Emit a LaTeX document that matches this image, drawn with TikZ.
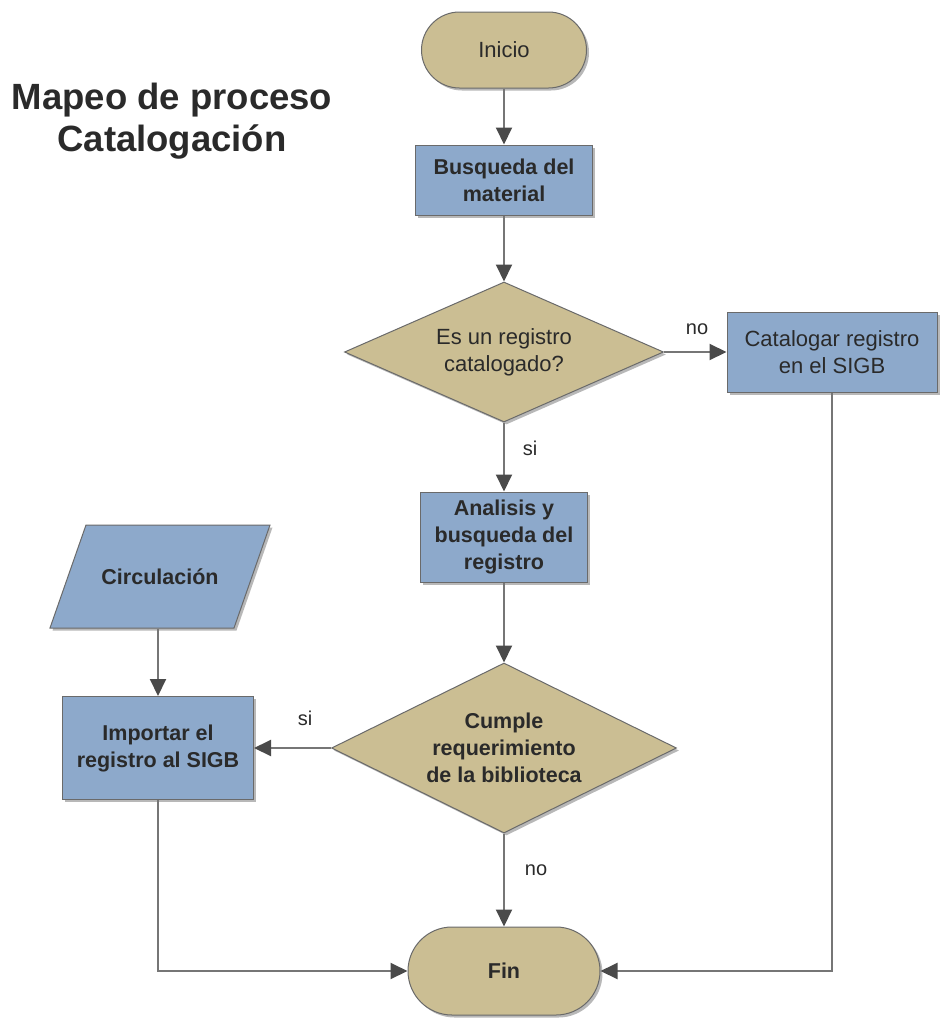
\documentclass[tikz,border=0pt]{standalone}
\usepackage{fontspec}
\setmainfont{Liberation Sans}
\usetikzlibrary{shapes.geometric,arrows.meta,shadows}

\definecolor{boxblue}{HTML}{8DA9CB}
\definecolor{tan}{HTML}{CBBE93}
\definecolor{bordergray}{HTML}{6A6A6A}
\definecolor{linegray}{HTML}{767676}
\definecolor{tipgray}{HTML}{4A4A4A}
\definecolor{textdark}{HTML}{2A2A2A}

\tikzset{
  outline/.style={draw=bordergray, line width=1pt,
    drop shadow={shadow xshift=2.5pt, shadow yshift=-2.5pt, fill=black, opacity=0.28}},
  shapebase/.style={outline, text=textdark, align=center, inner sep=0pt},
  regtext/.style={font=\fontsize{22}{27}\selectfont},
  boldtext/.style={font=\fontsize{21.5}{27}\selectfont\bfseries},
  terminal/.style={shapebase, fill=tan, rectangle},
  procbox/.style={shapebase, fill=boxblue, rectangle},
  decision/.style={shapebase, fill=tan, diamond},
  iolabel/.style={text=textdark, align=center, inner sep=0pt},
  flow/.style={draw=linegray, line width=2pt,
    -{Triangle[length=17pt, width=16pt, color=tipgray]}},
  flowlabel/.style={font=\fontsize{20}{24}\selectfont, text=textdark},
}

\begin{document}
\begin{tikzpicture}[x=1pt, y=-1pt]
  \useasboundingbox[fill=white] (0,0) rectangle (943,1020);

  % title
  \node[font=\fontsize{36.5}{42}\selectfont\bfseries, text=textdark, align=center]
    (title) at (172,121) {Mapeo de proceso\\Catalogación};

  % main column
  \node[terminal, regtext, minimum width=165pt, minimum height=76pt, rounded corners=38pt]
    (inicio) at (504,50) {Inicio};
  \node[procbox, boldtext, minimum width=177pt, minimum height=70pt]
    (busq) at (504,180) {Busqueda del\\material};
  \node[decision, regtext, minimum width=319pt, minimum height=140pt, shape aspect=2.28]
    (dec1) at (504,352) {Es un registro\\catalogado?};
  \node[procbox, regtext, minimum width=210pt, minimum height=80pt]
    (catal) at (832,352) {Catalogar registro\\en el SIGB};
  \node[procbox, boldtext, minimum width=167pt, minimum height=90pt]
    (anal) at (504,537) {Analisis y\\busqueda del\\registro};
  \node[decision, boldtext, minimum width=345pt, minimum height=170pt, shape aspect=2.03]
    (dec2) at (504,748) {Cumple\\requerimiento\\de la biblioteca};

  % input parallelogram on the left
  \path[outline, fill=boxblue] (86,525) -- (270,525) -- (234,628) -- (50,628) -- cycle;
  \node[iolabel, boldtext, minimum height=103pt] (circ) at (160,577) {Circulación};

  \node[procbox, boldtext, minimum width=191pt, minimum height=103pt]
    (import) at (158,748) {Importar el\\registro al SIGB};
  \node[terminal, boldtext, minimum width=192pt, minimum height=88pt, rounded corners=44pt]
    (fin) at (504,971) {Fin};

  % connectors
  \draw[flow] (inicio) -- (busq);
  \draw[flow] (busq) -- (dec1);
  \draw[flow] (dec1.east) -- (catal.west);
  \draw[flow] (dec1.south) -- (anal.north);
  \draw[flow] (anal) -- (dec2);
  \draw[flow] (dec2.west) -- (import.east);
  \draw[flow] (dec2.south) -- (fin.north);
  \draw[flow] (circ.south -| import.north) -- (import.north);
  \draw[flow] (catal.south) |- (fin.east);
  \draw[flow] (import.south) |- (fin.west);

  % branch labels
  \node[flowlabel] (lno1) at (697,329) {no};
  \node[flowlabel] (lsi1) at (530,448) {si};
  \node[flowlabel] (lsi2) at (305,718) {si};
  \node[flowlabel] (lno2) at (536,870) {no};
\end{tikzpicture}
\end{document}
